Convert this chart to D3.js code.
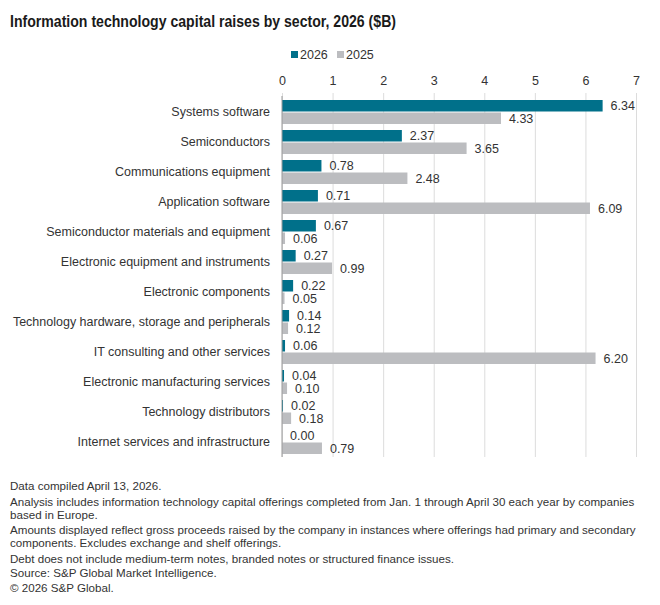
<!DOCTYPE html>
<html>
<head>
<meta charset="utf-8">
<script src="https://cdn.jsdelivr.net/npm/d3@7"></script>
<style>
  body { margin: 0; background: #fff; }
  svg { display: block; font-family: "Liberation Sans", Arial, sans-serif; }
</style>
</head>
<body>
<svg id="chart" width="660" height="605"></svg>
<script>
// sectors, top to bottom
var sectors = [
  "Systems software",
  "Semiconductors",
  "Communications equipment",
  "Application software",
  "Semiconductor materials and equipment",
  "Electronic equipment and instruments",
  "Electronic components",
  "Technology hardware, storage and peripherals",
  "IT consulting and other services",
  "Electronic manufacturing services",
  "Technology distributors",
  "Internet services and infrastructure"
];
var values2026 = [6.34, 2.37, 0.78, 0.71, 0.67, 0.27, 0.22, 0.14, 0.06, 0.04, 0.02, 0.00];
var values2025 = [4.33, 3.65, 2.48, 6.09, 0.06, 0.99, 0.05, 0.12, 6.20, 0.10, 0.18, 0.79];
var seriesNames = ["2026", "2025"];
var xTicks = [0, 1, 2, 3, 4, 5, 6, 7];

var notes = [
  "Data compiled April 13, 2026.",
  "Analysis includes information technology capital offerings completed from Jan. 1 through April 30 each year by companies",
  "based in Europe.",
  "Amounts displayed reflect gross proceeds raised by the company in instances where offerings had primary and secondary",
  "components. Excludes exchange and shelf offerings.",
  "Debt does not include medium-term notes, branded notes or structured finance issues.",
  "Source: S&P Global Market Intelligence.",
  "\u00a9 2026 S&P Global."
];
var noteY = [490, 506, 519, 534, 547, 563, 577, 592];

var colors = { "2026": "#00708A", "2025": "#BCBDC0" };

var svg = d3.select("#chart");

// title (squeezed to the narrow face of the original)
svg.append("text")
  .attr("x", 10).attr("y", 27)
  .attr("font-size", 17)
  .attr("font-weight", "bold")
  .attr("fill", "#1a1a1a")
  .attr("textLength", 386)
  .attr("lengthAdjust", "spacingAndGlyphs")
  .text("Information technology capital raises by sector, 2026 ($B)");

// scales
var x = d3.scaleLinear().domain([0, 7]).range([282, 636]);
var y = d3.scaleBand().domain(sectors).range([97, 457]).paddingInner(0.2).paddingOuter(0.1);
var ySub = d3.scaleBand().domain(seriesNames).range([0, y.bandwidth()]).paddingInner(0.08);

// legend
var legend = svg.append("g").attr("font-size", 12.5).attr("fill", "#333");
var legX = [291, 337];
seriesNames.forEach(function (s, i) {
  legend.append("rect").attr("x", legX[i]).attr("y", 51).attr("width", 7).attr("height", 7).attr("fill", colors[s]);
  legend.append("text").attr("x", legX[i] + 9).attr("y", 59).attr("fill", "#333").text(s);
});

// grid + top tick labels
var xAxis = d3.axisTop(x).tickValues(xTicks).tickSize(-(457 - 93)).tickFormat(d3.format("d"));
var gx = svg.append("g").attr("transform", "translate(0,93)").call(xAxis);
gx.select(".domain").remove();
gx.selectAll(".tick line").attr("stroke", "#dcdcdc");
gx.selectAll(".tick text")
  .attr("y", -8)
  .attr("font-size", 12.5)
  .attr("fill", "#333")
  .style("font-family", "'Liberation Sans', Arial, sans-serif");

// category labels
svg.append("g").selectAll("text")
  .data(sectors).enter().append("text")
  .attr("x", 270)
  .attr("y", function (d) { return y(d) + y.bandwidth() / 2 + 4; })
  .attr("text-anchor", "end")
  .attr("font-size", 12.5)
  .attr("fill", "#333")
  .text(function (d) { return d; });

// bars
var rows = sectors.map(function (s, i) {
  return { sector: s, vals: [{ k: "2026", v: values2026[i] }, { k: "2025", v: values2025[i] }] };
});

var g = svg.append("g").selectAll("g")
  .data(rows).enter().append("g")
  .attr("transform", function (d) { return "translate(0," + y(d.sector) + ")"; });

g.selectAll("rect")
  .data(function (d) { return d.vals; }).enter().append("rect")
  .attr("x", x(0))
  .attr("y", function (d) { return ySub(d.k); })
  .attr("width", function (d) { return x(d.v) - x(0); })
  .attr("height", ySub.bandwidth())
  .attr("fill", function (d) { return colors[d.k]; });

g.selectAll("text")
  .data(function (d) { return d.vals; }).enter().append("text")
  .attr("x", function (d) { return x(d.v) + 8; })
  .attr("y", function (d) { return ySub(d.k) + ySub.bandwidth() / 2 + 4.5; })
  .attr("font-size", 12.5)
  .attr("fill", "#333")
  .text(function (d) { return d.v.toFixed(2); });

// axis line at zero
svg.append("line")
  .attr("x1", x(0)).attr("x2", x(0))
  .attr("y1", 96).attr("y2", 457)
  .attr("stroke", "#999");

// footnotes
svg.append("g").selectAll("text")
  .data(notes).enter().append("text")
  .attr("x", 10)
  .attr("y", function (d, i) { return noteY[i]; })
  .attr("font-size", 11.6)
  .attr("fill", "#333")
  .text(function (d) { return d; });
</script>
</body>
</html>
